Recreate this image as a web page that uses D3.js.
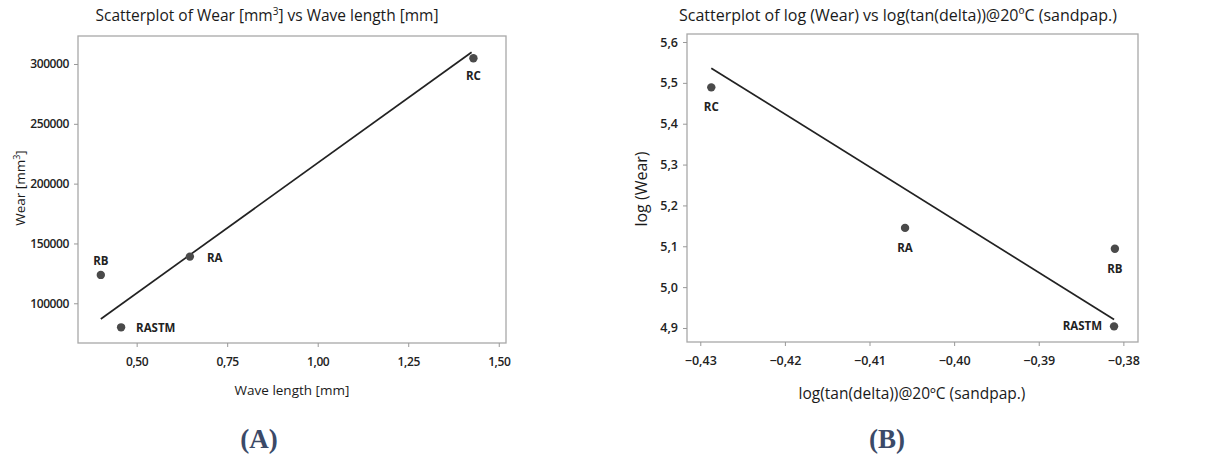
<!DOCTYPE html>
<html><head><meta charset="utf-8">
<script src="https://cdn.jsdelivr.net/npm/d3@7"></script>
<style>body{margin:0;background:#fff}svg{display:block}</style>
</head><body>
<svg id="c" width="1232" height="459"></svg>
<script>
// Panel A data
const namesA = ["RB", "RASTM", "RA", "RC"];
const waveLength = [0.401, 0.457, 0.647, 1.43];
const wear = [123700, 79900, 139000, 304800];
const fitAX = [0.401, 1.425];
const fitAY = [86900, 309800];
const ticksAX = [0.50, 0.75, 1.00, 1.25, 1.50];
const ticksAY = [100000, 150000, 200000, 250000, 300000];

// Panel B data
const namesB = ["RC", "RA", "RB", "RASTM"];
const logTanDelta = [-0.4287, -0.4058, -0.3810, -0.3811];
const logWear = [5.489, 5.145, 5.094, 4.904];
const fitBX = [-0.4287, -0.3811];
const fitBY = [5.536, 4.921];
const ticksBX = [-0.43, -0.42, -0.41, -0.40, -0.39, -0.38];
const ticksBY = [4.9, 5.0, 5.1, 5.2, 5.3, 5.4, 5.5, 5.6];

const svg = d3.select("#c");
const font = "'Open Sans', 'Noto Sans', sans-serif";
const fmtComma = (d, n) => d3.format("." + n + "f")(d).replace(".", ",");

function panel(cfg) {
  const g = svg.append("g");
  const x = d3.scaleLinear().domain(cfg.xDom).range([cfg.left, cfg.right]);
  const y = d3.scaleLinear().domain(cfg.yDom).range([cfg.bottom, cfg.top]);
  g.append("rect").attr("x", cfg.left).attr("y", cfg.top)
    .attr("width", cfg.right - cfg.left).attr("height", cfg.bottom - cfg.top)
    .attr("fill", "none").attr("stroke", "#a8a8a8").attr("stroke-width", 1.3);
  const xa = g.append("g").attr("transform", `translate(0,${cfg.bottom})`)
    .call(d3.axisBottom(x).tickValues(cfg.xTicks).tickSize(4).tickPadding(cfg.xPad).tickFormat(cfg.xFmt));
  const ya = g.append("g").attr("transform", `translate(${cfg.left},0)`)
    .call(d3.axisLeft(y).tickValues(cfg.yTicks).tickSize(4).tickPadding(5).tickFormat(cfg.yFmt));
  [xa, ya].forEach(a => {
    a.select(".domain").remove();
    a.selectAll("line").attr("stroke", "#999");
    a.selectAll("text").attr("fill", "#222").style("font-family", font)
      .style("font-size", cfg.tickSize).style("font-weight", "600")
      .style("letter-spacing", cfg.tickSpacing);
  });
  g.append("path").datum(cfg.fitX.map((v, i) => [v, cfg.fitY[i]]))
    .attr("d", d3.line().x(d => x(d[0])).y(d => y(d[1])))
    .attr("stroke", "#222").attr("stroke-width", 1.7).attr("fill", "none");
  const pts = cfg.xs.map((v, i) => ({x: v, y: cfg.ys[i], n: cfg.names[i]}));
  g.selectAll("circle.p").data(pts).join("circle")
    .attr("cx", d => x(d.x)).attr("cy", d => y(d.y)).attr("r", 4.2).attr("fill", "#4a4a4a");
  g.selectAll("text.l").data(pts).join("text")
    .attr("x", d => x(d.x) + cfg.lab[d.n][0]).attr("y", d => y(d.y) + cfg.lab[d.n][1])
    .attr("text-anchor", d => cfg.lab[d.n][2])
    .attr("fill", "#222").style("font-family", font).style("font-size", cfg.labSize).style("font-weight", "700")
    .text(d => d.n);
  g.append("text").attr("x", cfg.titleX).attr("y", 21).attr("text-anchor", "middle")
    .attr("fill", "#1a1a1a").style("font-family", font).style("font-size", cfg.titleSize).style("font-weight", "500").html(cfg.title);
  g.append("text").attr("x", cfg.xlabX).attr("y", cfg.xlabY).attr("text-anchor", "middle")
    .attr("fill", "#1a1a1a").style("font-family", font).style("font-size", cfg.xlabSize).style("font-weight", "500").html(cfg.xlab);
  g.append("text").attr("transform", `translate(${cfg.ylabX},${cfg.ylabY}) rotate(-90)`).attr("text-anchor", "middle")
    .attr("fill", "#1a1a1a").style("font-family", font).style("font-size", cfg.ylabSize).style("font-weight", "500").html(cfg.ylab);
  g.append("text").attr("x", cfg.panelX).attr("y", 448).attr("text-anchor", "middle")
    .attr("fill", "#3b4a68").style("font-family", "'Liberation Serif', serif").style("font-size", "27px")
    .style("font-weight", "bold").text(cfg.panel);
}

panel({
  left: 78, right: 506, top: 36, bottom: 343,
  xDom: [0.338, 1.52], yDom: [66800, 323400],
  xTicks: ticksAX, yTicks: ticksAY, xPad: 10, tickSize: "12px", tickSpacing: "-0.4px", labSize: "11.5px",
  titleSize: "15.5px", xlabSize: "13.5px", ylabSize: "13.5px",
  xFmt: d => fmtComma(d, 2), yFmt: d => d3.format("d")(d),
  xs: waveLength, ys: wear, names: namesA, fitX: fitAX, fitY: fitAY,
  lab: {RC: [0, 22, "middle"], RB: [0, -10, "middle"], RA: [17, 5, "start"], RASTM: [15, 5, "start"]},
  title: "Scatterplot of Wear [mm<tspan dy='-6' font-size='10px'>3</tspan><tspan dy='6'>] vs Wave length [mm]</tspan>",
  titleX: 267,
  xlab: "Wave length [mm]", xlabX: 292, xlabY: 395,
  ylab: "Wear [mm<tspan dy='-5' font-size='9px'>3</tspan><tspan dy='5'>]</tspan>", ylabX: 25, ylabY: 188,
  panel: "(A)", panelX: 259
});

panel({
  left: 687, right: 1138, top: 34, bottom: 342,
  xDom: [-0.43157, -0.37827], yDom: [4.8657, 5.6196],
  xTicks: ticksBX, yTicks: ticksBY, xPad: 10, tickSize: "12.5px", tickSpacing: "0px", labSize: "11.5px",
  titleSize: "16px", xlabSize: "15.5px", ylabSize: "16px",
  xFmt: d => fmtComma(d, 2), yFmt: d => fmtComma(d, 1),
  xs: logTanDelta, ys: logWear, names: namesB, fitX: fitBX, fitY: fitBY,
  lab: {RC: [0, 24, "middle"], RA: [0, 24, "middle"], RB: [0, 24, "middle"], RASTM: [-12, 4, "end"]},
  title: "Scatterplot of log (Wear) vs log(tan(delta))@20ºC (sandpap.)",
  titleX: 898,
  xlab: "log(tan(delta))@20ºC (sandpap.)", xlabX: 912, xlabY: 399,
  ylab: "log (Wear)", ylabX: 647, ylabY: 189,
  panel: "(B)", panelX: 887
});
</script>
</body></html>
